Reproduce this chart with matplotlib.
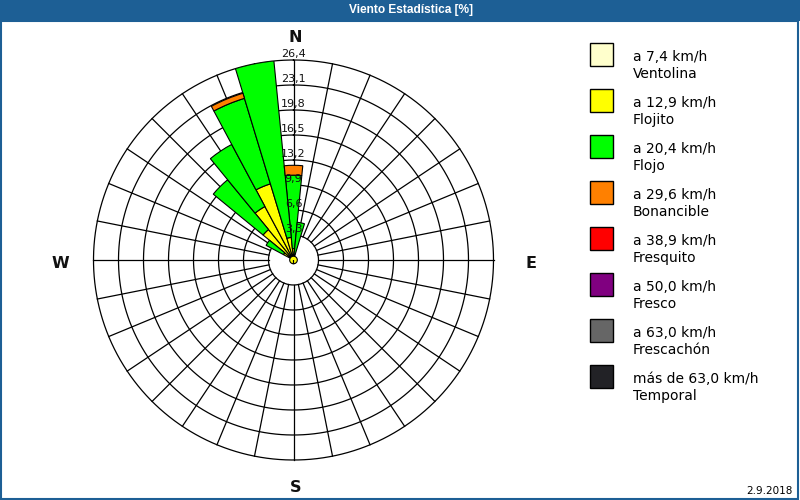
import numpy as np
import matplotlib
matplotlib.use("Agg")
import matplotlib.pyplot as plt
from matplotlib.patches import Rectangle

plt.rcParams["font.family"] = ["DejaVu Sans"]

# ---- data ------------------------------------------------------------------
# directions (deg, clockwise from N) that carry any wind
DIR_DEG = [0, 11.25, 303.75, 315, 326.25, 337.5, 348.75]
# frequency [%] per speed class, one value per direction above
VENTOLINA  = [0.2, 0.1, 0.1, 0.2, 0.2, 0.3, 0.2]
FLOJITO    = [1.3, 0.6, 1.4, 5.0, 7.8, 10.2, 2.8]
FLOJO      = [9.7, 4.3, 2.6, 8.5, 9.3, 11.8, 23.4]
BONANCIBLE = [1.3, 0.0, 0.0, 0.0, 0.0, 0.7, 0.0]
FRESQUITO  = [0.0, 0.0, 0.0, 0.0, 0.0, 0.0, 0.0]
FRESCO     = [0.0, 0.0, 0.0, 0.0, 0.0, 0.0, 0.0]
FRESCACHON = [0.0, 0.0, 0.0, 0.0, 0.0, 0.0, 0.0]
TEMPORAL   = [0.0, 0.0, 0.0, 0.0, 0.0, 0.0, 0.0]
CALMA = 0.5

CLASSES = [VENTOLINA, FLOJITO, FLOJO, BONANCIBLE,
           FRESQUITO, FRESCO, FRESCACHON, TEMPORAL]
CLASS_COLORS = ["#ffffcc", "#ffff00", "#00ff00", "#ff8000",
                "#ff0000", "#800080", "#666666", "#222226"]
CLASS_SPEED = ["a 7,4 km/h", "a 12,9 km/h", "a 20,4 km/h", "a 29,6 km/h",
               "a 38,9 km/h", "a 50,0 km/h", "a 63,0 km/h", "más de 63,0 km/h"]
CLASS_NAME = ["Ventolina", "Flojito", "Flojo", "Bonancible",
              "Fresquito", "Fresco", "Frescachón", "Temporal"]

RINGS = [3.3, 6.6, 9.9, 13.2, 16.5, 19.8, 23.1, 26.4]
RMAX = 26.4
SECTOR = 11.25

# ---- figure ----------------------------------------------------------------
W, H = 800, 500
fig = plt.figure(figsize=(8, 5), dpi=100)
fig.patch.set_facecolor("white")


def fx(px):
    return px / W


def fy(py):
    return 1 - py / H


# title bar + frame
BLUE = "#1d5f95"
fig.patches.append(Rectangle((0, fy(21)), 1, 21 / H, transform=fig.transFigure,
                             facecolor=BLUE, edgecolor="none"))
fig.patches.append(Rectangle((0.5 / W, 1.5 / H), 1 - 2.5 / W, 1 - 22 / H,
                             transform=fig.transFigure, facecolor="none",
                             edgecolor=BLUE, linewidth=1.5))
fig.text(fx(411), fy(10.5), "Viento Estadística [%]", color="white",
         fontsize=8.6, fontweight="bold", ha="center", va="center",
         family="Liberation Sans")

# polar rose: centre (293.5, 260), radius 200 px
ax = fig.add_axes([fx(93.5), fy(460), 400 / W, 400 / H], projection="polar")
ax.set_theta_zero_location("N")
ax.set_theta_direction(-1)
ax.set_ylim(0, RMAX)
ax.set_xticks([])
ax.set_yticks([])
ax.grid(False)
ax.spines["polar"].set_visible(False)
ax.patch.set_alpha(0)

th = np.linspace(0, 2 * np.pi, 400)
for r in RINGS:
    ax.plot(th, np.full_like(th, r), color="black", lw=0.9, zorder=1,
            clip_on=False)
for a in np.arange(0, 360, SECTOR):
    t = np.deg2rad(a)
    ax.plot([t, t], [RINGS[0], RMAX], color="black", lw=0.9, zorder=1,
            clip_on=False)

theta = np.deg2rad(DIR_DEG)
bottom = np.zeros(len(DIR_DEG))
for vals, col in zip(CLASSES, CLASS_COLORS):
    vals = np.array(vals)
    m = vals > 0
    if m.any():
        ax.bar(theta[m], vals[m], width=np.deg2rad(SECTOR), bottom=bottom[m],
               color=col, edgecolor="black", linewidth=0.8, zorder=2)
    bottom += vals

ax.bar(0, CALMA, width=2 * np.pi, bottom=0, color="#ffff00",
       edgecolor="black", linewidth=0.8, zorder=3)

for r in RINGS:
    ax.annotate(f"{r:.1f}".replace(".", ","), (0, r), xytext=(0, 0.5),
                textcoords="offset points", ha="center", va="bottom",
                fontsize=8, color="#111111", zorder=4, annotation_clip=False)

# compass points
for lab, x, y in [("N", 295, 37), ("W", 60, 264), ("E", 531, 264),
                  ("S", 296, 488)]:
    fig.text(fx(x), fy(y), lab, fontsize=11.5, fontweight="bold",
             ha="center", va="center", color="#111111")

# legend
for i, (col, sp, nm) in enumerate(zip(CLASS_COLORS, CLASS_SPEED, CLASS_NAME)):
    y0 = 43 + 46 * i
    fig.patches.append(Rectangle((fx(590), fy(y0 + 23)), 23 / W, 23 / H,
                                 transform=fig.transFigure, facecolor=col,
                                 edgecolor="black", linewidth=1))
    fig.text(fx(633), fy(y0 + 14), sp, fontsize=10, ha="left", va="center")
    fig.text(fx(633), fy(y0 + 31), nm, fontsize=10, ha="left", va="center")

fig.text(fx(793), fy(491), "2.9.2018", fontsize=7.5, ha="right", va="center")

fig.savefig("out.png", dpi=100)
